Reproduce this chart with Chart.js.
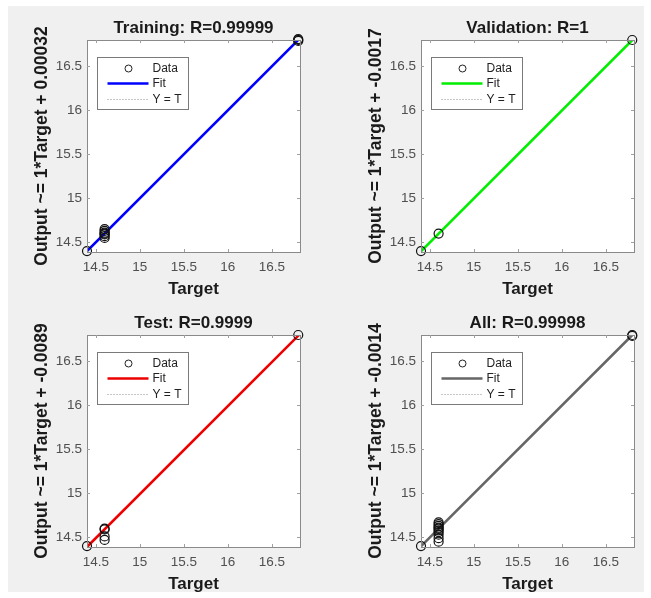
<!DOCTYPE html>
<html>
<head>
<meta charset="utf-8">
<script src="https://cdn.jsdelivr.net/npm/chart.js@4.4.0/dist/chart.umd.min.js"></script>
<style>
  html, body { margin: 0; padding: 0; background: #ffffff; }
  #fig { position: relative; width: 651px; height: 598px; overflow: hidden; }
  #bg { position: absolute; left: 8px; top: 6px; right: 7px; bottom: 6px; background: #f0f0f0; }
  .panel { position: absolute; width: 317px; height: 302px; }
</style>
</head>
<body>
<div id="fig">
  <div id="bg"></div>
  <div class="panel" style="left:0px;top:0px"><canvas id="cTrain"></canvas></div>
  <div class="panel" style="left:334px;top:0px"><canvas id="cVal"></canvas></div>
  <div class="panel" style="left:0px;top:295px"><canvas id="cTest"></canvas></div>
  <div class="panel" style="left:334px;top:295px"><canvas id="cAll"></canvas></div>
</div>
<script>
// axis limits and tick marks shared by all four plots
var xMin = 14.4, xMax = 16.82;
var yMin = 14.39, yMax = 16.8;
var tickVals = [14.5, 15, 15.5, 16, 16.5];

// training set
var trainTarget = [14.4, 14.6, 14.6, 14.6, 14.6, 14.6, 14.6, 14.6, 16.8, 16.8, 16.8];
var trainOutput = [14.4, 14.55, 14.57, 14.59, 14.6, 14.61, 14.63, 14.65, 16.8, 16.79, 16.81];
// validation set
var valTarget = [14.4, 14.6, 16.8];
var valOutput = [14.4, 14.6, 16.8];
// test set
var testTarget = [14.4, 14.6, 14.6, 14.6, 14.6, 16.8];
var testOutput = [14.4, 14.6, 14.59, 14.51, 14.47, 16.8];
// everything together
var allTarget = [14.4, 14.6, 14.6, 14.6, 14.6, 14.6, 14.6, 14.6, 14.6, 14.6, 14.6, 16.8, 16.8];
var allOutput = [14.4, 14.45, 14.49, 14.53, 14.56, 14.58, 14.6, 14.61, 14.63, 14.65, 14.67, 16.8, 16.79];

// regression fit: output ~= slope*target + offset
var trainFit = { m: 1, b: 0.00032 };
var valFit = { m: 1, b: -0.0017 };
var testFit = { m: 1, b: -0.0089 };
var allFit = { m: 1, b: -0.0014 };

var FONT = '"Liberation Sans", Arial, sans-serif';

function pts(t, o) {
  var out = [];
  for (var i = 0; i < t.length; i++) out.push({ x: t[i], y: o[i] });
  return out;
}

// box around the axes, inward ticks, the title and the framed legend
var boxAndLegend = {
  id: 'boxAndLegend',
  afterDatasetsDraw: function (chart, args, opts) {
    var ctx = chart.ctx;
    var a = chart.chartArea;
    ctx.save();
    ctx.strokeStyle = '#8a8a8a';
    ctx.lineWidth = 1;
    ctx.strokeRect(Math.round(a.left) + 0.5, Math.round(a.top) + 0.5,
      Math.round(a.right - a.left), Math.round(a.bottom - a.top));

    var xs = chart.scales.x, ys = chart.scales.y;
    ctx.strokeStyle = '#a0a0a0';
    tickVals.forEach(function (v) {
      var px = Math.round(xs.getPixelForValue(v)) + 0.5;
      var py = Math.round(ys.getPixelForValue(v)) + 0.5;
      ctx.beginPath();
      ctx.moveTo(px, a.bottom); ctx.lineTo(px, a.bottom - 3);
      ctx.moveTo(px, a.top); ctx.lineTo(px, a.top + 3);
      ctx.moveTo(a.left, py); ctx.lineTo(a.left + 3, py);
      ctx.moveTo(a.right, py); ctx.lineTo(a.right - 3, py);
      ctx.stroke();
    });

    // title centred over the plot box
    ctx.fillStyle = '#1a1a1a';
    ctx.font = 'bold 17px ' + FONT;
    ctx.textAlign = 'center';
    ctx.textBaseline = 'middle';
    ctx.fillText(opts.title, (a.left + a.right) / 2, a.top - 12);

    var ds = chart.data.datasets;
    var lx = Math.round(a.left) + 10.5, ly = Math.round(a.top) + 17.5;
    var lw = 91, lh = 52;
    ctx.fillStyle = '#ffffff';
    ctx.fillRect(lx, ly, lw, lh);
    ctx.strokeStyle = '#7a7a7a';
    ctx.strokeRect(lx, ly, lw, lh);

    ctx.font = '12px ' + FONT;
    ctx.textAlign = 'left';
    var rows = [ly + 11, ly + 26, ly + 42];
    for (var i = 0; i < 3; i++) {
      var d = ds[i];
      var y = rows[i];
      if (i === 0) {
        ctx.beginPath();
        ctx.strokeStyle = '#222222';
        ctx.lineWidth = 1;
        ctx.arc(lx + 31, y, 3.5, 0, Math.PI * 2);
        ctx.stroke();
      } else {
        ctx.beginPath();
        ctx.strokeStyle = d.borderColor;
        ctx.lineWidth = d.borderWidth;
        ctx.setLineDash(d.borderDash || []);
        ctx.moveTo(lx + 10, y); ctx.lineTo(lx + 51, y);
        ctx.stroke();
        ctx.setLineDash([]);
      }
      ctx.fillStyle = '#222222';
      ctx.fillText(d.label, lx + 55, y);
    }
    ctx.restore();
  }
};

var whiteArea = {
  id: 'whiteArea',
  beforeDraw: function (chart) {
    var a = chart.chartArea;
    chart.ctx.save();
    chart.ctx.fillStyle = '#ffffff';
    chart.ctx.fillRect(a.left, a.top, a.right - a.left, a.bottom - a.top);
    chart.ctx.restore();
  }
};

function makePlot(id, title, target, output, fit, fitColor) {
  var lo = Math.min(xMin, yMin), hi = Math.max(xMax, yMax);
  var fitPts = [{ x: lo, y: fit.m * lo + fit.b }, { x: hi, y: fit.m * hi + fit.b }];
  var idPts = [{ x: lo, y: lo }, { x: hi, y: hi }];
  var ylabel = 'Output ~= ' + fit.m + '*Target + ' + fit.b;

  new Chart(document.getElementById(id), {
    type: 'scatter',
    data: {
      datasets: [
        {
          label: 'Data',
          data: pts(target, output),
          pointStyle: 'circle',
          pointRadius: 4.5,
          pointBorderWidth: 1.2,
          pointBorderColor: '#111111',
          pointBackgroundColor: 'rgba(0,0,0,0)',
          showLine: false,
          clip: false,
          order: 0
        },
        {
          label: 'Fit',
          data: fitPts,
          showLine: true,
          borderColor: fitColor,
          borderWidth: 2.6,
          pointRadius: 0,
          order: 1
        },
        {
          label: 'Y = T',
          data: idPts,
          showLine: true,
          borderColor: '#8c8c8c',
          borderWidth: 1,
          borderDash: [1, 2],
          pointRadius: 0,
          order: 2
        }
      ]
    },
    options: {
      responsive: false,
      animation: false,
      events: [],
      layout: { padding: { left: 28, right: 17, top: 40, bottom: 0 } },
      plugins: {
        legend: { display: false },
        tooltip: { enabled: false },
        title: { display: false },
        boxAndLegend: { title: title }
      },
      scales: {
        x: {
          type: 'linear',
          min: xMin,
          max: xMax,
          afterBuildTicks: function (s) { s.ticks = tickVals.map(function (v) { return { value: v }; }); },
          afterFit: function (s) { s.height = 50; },
          grid: { display: false, drawTicks: false },
          border: { display: false },
          ticks: {
            padding: 7,
            color: '#505050',
            font: { family: FONT, size: 13.5 },
            callback: function (v) { return String(v); }
          },
          title: {
            display: true,
            text: 'Target',
            color: '#1a1a1a',
            padding: { top: 0, bottom: 2 },
            font: { family: FONT, size: 17, weight: 'bold', lineHeight: 1.2 }
          }
        },
        y: {
          type: 'linear',
          min: yMin,
          max: yMax,
          afterBuildTicks: function (s) { s.ticks = tickVals.map(function (v) { return { value: v }; }); },
          afterFit: function (s) { s.width = 59; },
          grid: { display: false, drawTicks: false },
          border: { display: false },
          ticks: {
            padding: 5,
            color: '#505050',
            font: { family: FONT, size: 13.5 },
            callback: function (v) { return String(v); }
          },
          title: {
            display: true,
            text: ylabel,
            color: '#1a1a1a',
            padding: { top: 4, bottom: 0 },
            font: { family: FONT, size: 17.5, weight: 'bold', lineHeight: 1.2 }
          }
        }
      }
    },
    plugins: [whiteArea, boxAndLegend]
  });
}

function sizeCanvas(id) {
  var c = document.getElementById(id);
  c.width = 317; c.height = 302;
  c.style.width = '317px'; c.style.height = '302px';
}
['cTrain', 'cVal', 'cTest', 'cAll'].forEach(sizeCanvas);

makePlot('cTrain', 'Training: R=0.99999', trainTarget, trainOutput, trainFit, '#0000ff');
makePlot('cVal', 'Validation: R=1', valTarget, valOutput, valFit, '#00ee00');
makePlot('cTest', 'Test: R=0.9999', testTarget, testOutput, testFit, '#ee0000');
makePlot('cAll', 'All: R=0.99998', allTarget, allOutput, allFit, '#666666');
</script>
</body>
</html>
